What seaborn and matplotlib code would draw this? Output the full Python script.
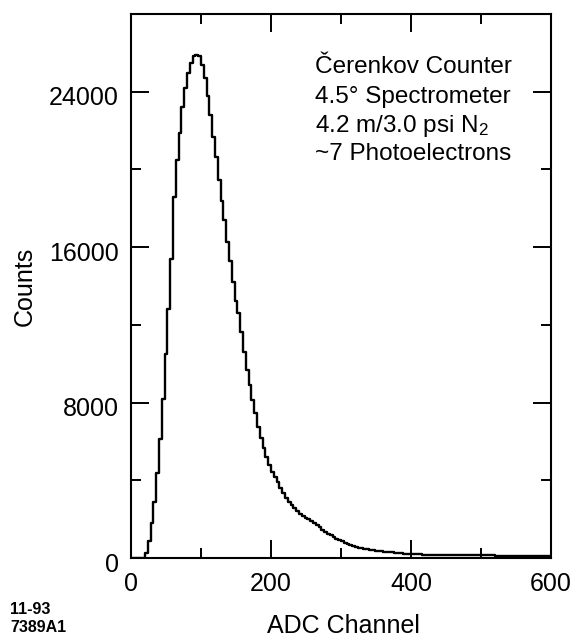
import numpy as np
import pandas as pd
import matplotlib
matplotlib.use("Agg")
import matplotlib.pyplot as plt
import matplotlib.transforms as mtransforms
from matplotlib.ticker import MultipleLocator
import seaborn as sns

# ---- data ----
bin_width = 4
counts = [
    0, 0, 0, 0, 0, 250, 850, 1800, 2900, 4400,                               # 0-36
    6100, 8200, 10500, 12800, 15400, 18600, 20500, 21900, 23200, 24200,      # 40-76
    24950, 25500, 25850, 25900, 25820, 25350, 24700, 23800, 22800, 21650,    # 80-116
    20650, 19450, 18400, 17400, 16250, 15300, 14200, 13250, 12600, 11650,    # 120-156
    10600, 9700, 8900, 8150, 7450, 6750, 6200, 5650, 5200, 4800,             # 160-196
    4450, 4150, 3900, 3600, 3330, 3100, 2880, 2720, 2560, 2410,              # 200-236
    2290, 2180, 2080, 1990, 1890, 1780, 1680, 1570, 1460, 1360,              # 240-276
    1250, 1160, 1070, 990, 920, 850, 790, 730, 680, 630,                     # 280-316
    580, 540, 500, 470, 440, 420, 400, 385, 365, 345,                        # 320-356
    330, 315, 300, 285, 270, 255, 240, 228, 215, 205,                        # 360-396
    195, 190, 186, 182, 178, 175, 172, 169, 166, 163,                        # 400-436
    160, 158, 156, 154, 152, 150, 148, 146, 144, 142,                        # 440-476
    140, 138, 136, 135, 134, 133, 132, 131, 130, 129,                        # 480-516
    128, 127, 126, 125, 124, 124, 123, 123, 122, 122,                        # 520-556
    121, 121, 120, 120, 120, 120, 120, 120, 120, 120,                        # 560-596
]
bin_starts = list(range(0, 600, bin_width))
x_ticks = [0, 200, 400, 600]
y_ticks = [0, 8000, 16000, 24000]
annotation = ["Čerenkov Counter", "4.5° Spectrometer",
              "4.2 m/3.0 psi N$_2$", "~7 Photoelectrons"]

df = pd.DataFrame({"channel": np.array(bin_starts, dtype=float) + bin_width / 2,
                   "counts": np.array(counts, dtype=float)})

# ---- style ----
sns.set_style("ticks")
plt.rcParams["font.family"] = ["Liberation Sans", "DejaVu Sans"]
plt.rcParams["mathtext.fontset"] = "custom"
plt.rcParams["mathtext.rm"] = "Liberation Sans"
plt.rcParams["mathtext.default"] = "regular"
for key in ["text.color", "axes.labelcolor", "xtick.color", "ytick.color",
            "xtick.labelcolor", "ytick.labelcolor", "axes.edgecolor"]:
    plt.rcParams[key] = "black"

W, H = 578, 643
fig = plt.figure(figsize=(W / 100, H / 100), dpi=100)
L, R, B, T = 131, 551, 558, 14
ax = fig.add_axes([L / W, 1 - B / H, (R - L) / W, (B - T) / H])

sns.histplot(data=df, x="channel", weights="counts",
             binwidth=bin_width, binrange=(0, 600),
             element="step", fill=False, color="black", linewidth=1.7, ax=ax)

ax.set_xlim(0, 600)
ax.set_ylim(0, 28000)
ax.set_xticks(x_ticks)
ax.set_yticks(y_ticks)
ax.set_xticklabels([str(v) for v in x_ticks])
ax.set_yticklabels([str(v) for v in y_ticks])
ax.xaxis.set_minor_locator(MultipleLocator(100))
ax.yaxis.set_minor_locator(MultipleLocator(4000))

for s in ax.spines.values():
    s.set_visible(True)
    s.set_linewidth(1.5)
    s.set_color("black")

ax.tick_params(which="both", direction="in", top=True, right=True,
               width=1.4, color="black", labelcolor="black", labelsize=18)
ax.tick_params(which="major", length=13)
ax.tick_params(which="minor", length=7)
ax.tick_params(axis="x", which="major", pad=10)
ax.tick_params(axis="y", which="major", pad=9)

# y tick labels sit a few pixels below their ticks in the reference
shift = mtransforms.ScaledTranslation(0, -4 / 100, fig.dpi_scale_trans)
for lab in ax.get_yticklabels():
    lab.set_transform(lab.get_transform() + shift)

ax.set_xlabel("ADC Channel", fontsize=18, color="black")
ax.set_ylabel("Counts", fontsize=18, color="black")
ax.xaxis.set_label_coords(0.505, (B - 626) / (B - T))
ax.xaxis.label.set_verticalalignment("center")
ax.yaxis.set_label_coords((25 - L) / (R - L), 0.5)
ax.yaxis.label.set_verticalalignment("center")

# annotation block
baselines = [73, 103, 132, 160]
for txt, yb in zip(annotation, baselines):
    fig.text(315 / W, 1 - yb / H, txt, fontsize=17.5, ha="left",
             va="baseline", color="black")

fig.text(10 / W, 1 - 610 / H, "11-93", fontsize=11.5, fontweight="bold",
         va="center", color="black")
fig.text(10 / W, 1 - 628 / H, "7389A1", fontsize=11.5, fontweight="bold",
         va="center", color="black")

fig.savefig("out.png", dpi=100, facecolor="white")
